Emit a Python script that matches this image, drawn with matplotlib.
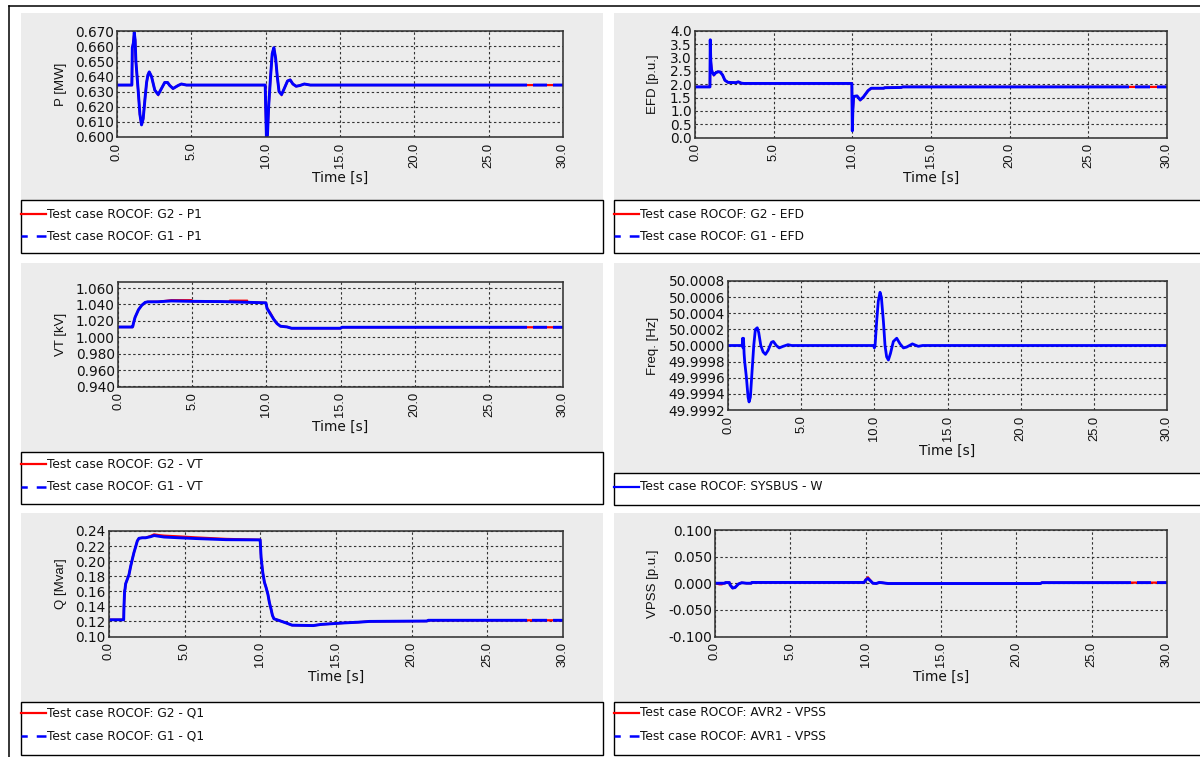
import numpy as np
import matplotlib
matplotlib.use("Agg")
import matplotlib.pyplot as plt
import matplotlib.transforms as mtransforms
from matplotlib.path import Path
from matplotlib.patches import Rectangle
from matplotlib.lines import Line2D
from matplotlib.ticker import FormatStrFormatter, MultipleLocator

# ---------------- data ----------------
time_ticks = [0, 5, 10, 15, 20, 25, 30]

# P [MW]
t_p = [0, 1.0, 1.03, 1.1, 1.16, 1.22, 1.27, 1.35, 1.43, 1.54, 1.65, 1.76, 1.88, 1.99, 2.08, 2.17,
       2.32, 2.54, 2.77, 2.99, 3.21, 3.4, 3.55, 3.77, 4.11, 4.33, 4.67, 5.0,
       9.97, 10.0, 10.05, 10.12, 10.2, 10.33, 10.44, 10.55, 10.67, 10.78, 10.9, 11.07, 11.25,
       11.47, 11.65, 11.83, 12.05, 12.3, 12.6, 13.0, 30]
p_g1 = [0.6343, 0.6343, 0.659, 0.662, 0.669, 0.664, 0.650, 0.640, 0.630, 0.615, 0.608, 0.612,
        0.625, 0.636, 0.641, 0.643, 0.640, 0.631, 0.628, 0.632, 0.636, 0.636, 0.634, 0.632,
        0.634, 0.635, 0.6343, 0.6343,
        0.6343, 0.620, 0.600, 0.601, 0.620, 0.640, 0.655, 0.659, 0.652, 0.640, 0.630, 0.628,
        0.632, 0.637, 0.6377, 0.635, 0.6335, 0.634, 0.635, 0.6343, 0.6343]
p_g2 = list(p_g1)

# EFD [p.u.]
t_e = [0, 0.95, 0.97, 1.0, 1.05, 1.1, 1.2, 1.3, 1.45, 1.6, 1.75, 1.9, 2.1, 2.6, 2.75, 2.95, 3.1,
       9.97, 10.0, 10.03, 10.08, 10.15, 10.3, 10.5, 10.7, 11.0, 11.2, 12.0, 12.05, 13.1, 13.2, 30]
e_g1 = [1.90, 1.90, 3.67, 2.9, 2.55, 2.45, 2.35, 2.42, 2.47, 2.46, 2.35, 2.15, 2.07, 2.06, 2.09,
        2.04, 2.03, 2.03, 0.25, 1.0, 1.5, 1.55, 1.56, 1.41, 1.52, 1.76, 1.85, 1.85, 1.87, 1.88,
        1.90, 1.90]
e_g2 = list(e_g1)

# VT [kV]
t_v = [0, 0.97, 1.0, 1.04, 1.15, 1.38, 1.6, 1.83, 2.0, 2.7, 3.6, 5.0, 7.0, 9.0, 9.97, 10.05,
       10.27, 10.5, 10.72, 10.95, 11.4, 11.7, 15.0, 15.1, 30]
v_g1 = [1.0125, 1.0125, 1.0135, 1.017, 1.0243, 1.0336, 1.039, 1.0425, 1.0432, 1.0433, 1.0443,
        1.0438, 1.0435, 1.0425, 1.042, 1.035, 1.0286, 1.0218, 1.0167, 1.0135, 1.0126, 1.011,
        1.011, 1.0122, 1.0122]
t_v2 = [0, 0.97, 1.0, 1.04, 1.15, 1.38, 1.6, 1.83, 2.0, 2.7, 3.6, 4.95, 5.0, 7.5, 7.55, 8.7,
        8.75, 9.97, 10.05, 10.27, 10.5, 10.72, 10.95, 11.4, 11.7, 15.0, 15.1, 30]
v_g2 = [1.0125, 1.0125, 1.0135, 1.017, 1.0243, 1.0336, 1.039, 1.0425, 1.0432, 1.0433, 1.0452,
        1.0452, 1.0438, 1.0434, 1.0446, 1.0446, 1.0428, 1.042, 1.036, 1.0296, 1.0222, 1.0167,
        1.0135, 1.0126, 1.011, 1.011, 1.0122, 1.0122]

# Freq. [Hz]
t_f = [0, 0.97, 1.0, 1.03, 1.06, 1.1, 1.14, 1.26, 1.37, 1.44, 1.53, 1.64, 1.76, 1.87, 2.0, 2.1,
       2.24, 2.4, 2.56, 2.74, 2.97, 3.1, 3.3, 3.5, 3.77, 4.1, 4.35, 9.95, 10.0, 10.05, 10.16,
       10.27, 10.39, 10.48, 10.62, 10.73, 10.84, 10.96, 11.1, 11.3, 11.53, 11.76, 11.99, 12.2,
       12.6, 13.0, 13.3, 30]
f_sys = [50.0, 50.0, 50.00009, 49.99997, 50.00009, 49.9999, 49.9998, 49.9996, 49.99936,
         49.9993, 49.99936, 49.99967, 50.0, 50.0002, 50.00022, 50.00016, 50.0, 49.99992,
         49.99989, 49.99994, 50.00004, 50.00005, 50.0, 49.99997, 49.99999, 50.00001, 50.0,
         50.0, 49.99997, 50.0, 50.0003, 50.00055, 50.00066, 50.0006, 50.0003, 50.0, 49.99986,
         49.99982, 49.9999, 50.00005, 50.00009, 50.00002, 49.99997, 49.99998, 50.00002,
         49.99999, 50.0, 50.0]

# Q [Mvar]
t_q = [0, 0.97, 0.99, 1.03, 1.06, 1.1, 1.21, 1.32, 1.43, 1.54, 1.65, 1.76, 1.87, 1.98, 2.2,
       2.42, 2.76, 2.98, 3.3, 3.64, 4.63, 5.74, 7.73, 9.94, 9.99, 10.05, 10.16, 10.27, 10.38,
       10.5, 10.6, 10.7, 10.8, 10.9, 11.2, 11.7, 12.1, 13.5, 14.0, 15.5, 16.5, 17.2, 21.0,
       21.1, 30]
q_g1 = [0.1222, 0.1222, 0.14, 0.16, 0.163, 0.17, 0.176, 0.182, 0.193, 0.2025, 0.2115, 0.219,
        0.2268, 0.2303, 0.231, 0.231, 0.2325, 0.234, 0.233, 0.232, 0.231, 0.230, 0.2285,
        0.2282, 0.2282, 0.205, 0.185, 0.172, 0.165, 0.156, 0.145, 0.137, 0.128, 0.1235,
        0.1215, 0.118, 0.115, 0.1145, 0.116, 0.118, 0.119, 0.120, 0.1205, 0.1215, 0.1215]
q_g2 = [0.1222, 0.1222, 0.14, 0.16, 0.163, 0.17, 0.176, 0.182, 0.193, 0.2025, 0.2115, 0.219,
        0.2268, 0.2303, 0.231, 0.231, 0.2335, 0.2355, 0.2345, 0.2338, 0.2328, 0.2315, 0.2295,
        0.2284, 0.2282, 0.205, 0.185, 0.172, 0.165, 0.156, 0.145, 0.137, 0.128, 0.1235,
        0.1215, 0.118, 0.115, 0.1145, 0.116, 0.118, 0.119, 0.120, 0.1205, 0.1215, 0.1215]

# VPSS [p.u.]
t_s = [0, 0.3, 0.45, 0.6, 0.65, 0.7, 0.95, 1.0, 1.17, 1.33, 1.55, 1.77, 2.1, 2.4, 2.45, 9.9,
       10.0, 10.15, 10.3, 10.48, 10.7, 10.9, 11.1, 11.35, 11.5, 21.6, 21.7, 30]
s_avr1 = [0.0, 0.0, 0.0, 0.0, 0.0, 0.0013, 0.0013, -0.003, -0.009, -0.008, -0.0015, 0.001,
          0.0, 0.0, 0.0015, 0.0015, 0.006, 0.009, 0.005, 0.0, -0.0005, 0.0015, 0.001, 0.0,
          -0.0005, -0.0005, 0.0012, 0.0012]
s_avr2 = [0.0, -0.002, -0.002, 0.0, 0.0, 0.0013, 0.0013, -0.003, -0.009, -0.008, -0.0015,
          0.001, 0.0, 0.0, 0.0015, 0.0015, 0.007, 0.011, 0.006, 0.0, -0.0005, 0.0015, 0.001,
          0.0, -0.0005, -0.0005, 0.0012, 0.0012]

# ---------------- layout helpers ----------------
W, H = 1200, 757
fig = plt.figure(figsize=(W / 100, H / 100), dpi=100)
fig.patch.set_facecolor("white")

PANEL = "#ececec"
BLUE = "#0000ff"
RED = "#ff0000"
TXT = "#111111"
HFONT = "DejaVu Sans"          # horizontally written text
VFONT = "Liberation Sans"      # vertically written text


def fx(px):
    return px / W


def fy(py):
    return 1 - py / H


def rect_px(x0, y0, x1, y1, **kw):
    r = Rectangle((fx(x0), fy(y1)), fx(x1) - fx(x0), fy(y0) - fy(y1),
                  transform=fig.transFigure, **kw)
    fig.add_artist(r)
    return r


def add_axes_px(l, r, t, b):
    return fig.add_axes([fx(l), fy(b), fx(r) - fx(l), fy(t) - fy(b)])


# outer frame
fig.add_artist(Line2D([fx(9), fx(9)], [fy(6), fy(757)], transform=fig.transFigure,
                      color="black", lw=1.1))
fig.add_artist(Line2D([fx(9), fx(1200)], [fy(6), fy(6)], transform=fig.transFigure,
                      color="black", lw=1.1))

# gray panels and legend boxes: (x0, x1, panel top, panel bottom/legend top, legend bottom)
panels = {
    "TL": (21, 603, 13, 200, 253),
    "TR": (614, 1201, 13, 200, 253),
    "ML": (21, 603, 263, 452, 504),
    "MR": (614, 1201, 263, 473, 505),
    "BL": (21, 603, 513, 702, 755),
    "BR": (614, 1201, 513, 702, 755),
}
for key, (x0, x1, t0, t1, t2) in panels.items():
    rect_px(x0, t0, x1, t1, facecolor=PANEL, edgecolor="none", zorder=-10)
    rect_px(x0, t1, x1, t2, facecolor="white", edgecolor="black", lw=1.0, zorder=-9)

axes_px = {
    "TL": (117, 563, 31, 137),
    "TR": (695, 1167, 31, 137.5),
    "ML": (118, 563, 281.5, 386.5),
    "MR": (728, 1167, 281, 410),
    "BL": (109, 563, 531, 636.5),
    "BR": (715, 1167, 530, 636.5),
}
ylabel_x = {"TL": 61, "ML": 61, "BL": 61, "TR": 653, "MR": 653, "BR": 653}

GAPS = [(-1, 27.6), (27.98, 28.95), (29.35, 31)]


def gap_clip(ax, line):
    trans = mtransforms.blended_transform_factory(ax.transData, ax.transAxes)
    verts, codes = [], []
    for a, b in GAPS:
        verts += [(a, -1), (b, -1), (b, 2), (a, 2), (a, -1)]
        codes += [Path.MOVETO, Path.LINETO, Path.LINETO, Path.LINETO, Path.CLOSEPOLY]
    line.set_clip_path(Path(verts, codes), trans)


def style_axes(key, ax, ylabel, ylim, ystep, yfmt):
    l, r, t, b = axes_px[key]
    w, h = r - l, b - t
    ax.set_facecolor(PANEL)
    ax.set_xlim(0, 30)
    ax.set_ylim(*ylim)
    ax.set_xticks(time_ticks)
    ax.set_xticklabels([f"{v:.1f}" for v in time_ticks], rotation=90,
                       fontfamily=VFONT, fontsize=9.3, color=TXT)
    ax.yaxis.set_major_locator(MultipleLocator(ystep))
    ax.yaxis.set_major_formatter(FormatStrFormatter(yfmt))
    for lab in ax.get_yticklabels():
        lab.set_fontfamily(HFONT)
        lab.set_fontsize(9.8)
        lab.set_color(TXT)
    ax.tick_params(axis="both", length=0)
    ax.tick_params(axis="x", pad=4)
    ax.tick_params(axis="y", pad=2.3)
    ax.grid(True, color="#333333", linestyle=(0, (2.2, 2.2)), lw=0.8)
    ax.set_axisbelow(True)
    for sp in ax.spines.values():
        sp.set_color("#333333")
        sp.set_linewidth(1.15)
    ax.set_xlabel("Time [s]", fontfamily=HFONT, fontsize=9.9, color=TXT, va="center")
    ax.xaxis.set_label_coords(0.5, -40.5 / h)
    ax.set_ylabel(ylabel, fontfamily=VFONT, fontsize=9.5, color=TXT, va="center")
    ax.yaxis.set_label_coords((ylabel_x[key] - l) / w, 0.5)


def legend_px(key, entries, ys):
    x0 = panels[key][0]
    for (label, color, ls), y in zip(entries, ys):
        ln = Line2D([fx(x0), fx(x0 + 25)], [fy(y), fy(y)], transform=fig.transFigure,
                    color=color, lw=1.6 if ls == "-" else 1.8)
        if ls != "-":
            ln.set_linestyle((5.5, (8.0, 3.6)))
        fig.add_artist(ln)
        fig.text(fx(x0 + 26), fy(y), label, fontfamily=HFONT, fontsize=8.8, color=TXT,
                 va="center", ha="left")


def two_series(key, t2, y2, t1, y1, ylabel, ylim, ystep, yfmt, lab2, lab1, ys):
    ax = add_axes_px(*axes_px[key])
    ax.plot(t2, y2, color=RED, lw=1.6, solid_joinstyle="miter")
    (bl,) = ax.plot(t1, y1, color=BLUE, lw=2.1)
    gap_clip(ax, bl)
    style_axes(key, ax, ylabel, ylim, ystep, yfmt)
    legend_px(key, [(lab2, RED, "-"), (lab1, BLUE, "--")], ys)
    return ax


two_series("TL", t_p, p_g2, t_p, p_g1, "P [MW]", (0.600, 0.670), 0.010, "%.3f",
           "Test case ROCOF: G2 - P1", "Test case ROCOF: G1 - P1", (214, 236))
two_series("TR", t_e, e_g2, t_e, e_g1, "EFD [p.u.]", (0.0, 4.0), 0.5, "%.1f",
           "Test case ROCOF: G2 - EFD", "Test case ROCOF: G1 - EFD", (214, 236))
two_series("ML", t_v2, v_g2, t_v, v_g1, "VT [kV]", (0.940, 1.068), 0.020, "%.3f",
           "Test case ROCOF: G2 - VT", "Test case ROCOF: G1 - VT", (464, 486.5))
two_series("BL", t_q, q_g2, t_q, q_g1, "Q [Mvar]", (0.10, 0.24), 0.02, "%.2f",
           "Test case ROCOF: G2 - Q1", "Test case ROCOF: G1 - Q1", (713, 736))
two_series("BR", t_s, s_avr2, t_s, s_avr1, "VPSS [p.u.]", (-0.100, 0.100), 0.050, "%.3f",
           "Test case ROCOF: AVR2 - VPSS", "Test case ROCOF: AVR1 - VPSS", (713, 736))

# frequency panel (single series)
axf = add_axes_px(*axes_px["MR"])
axf.plot(t_f, f_sys, color=BLUE, lw=2.0)
style_axes("MR", axf, "Freq. [Hz]", (49.9992, 50.0008), 0.0002, "%.4f")
legend_px("MR", [("Test case ROCOF: SYSBUS - W", BLUE, "-")], (486.5,))

fig.savefig("out.png", dpi=100, facecolor="white")
